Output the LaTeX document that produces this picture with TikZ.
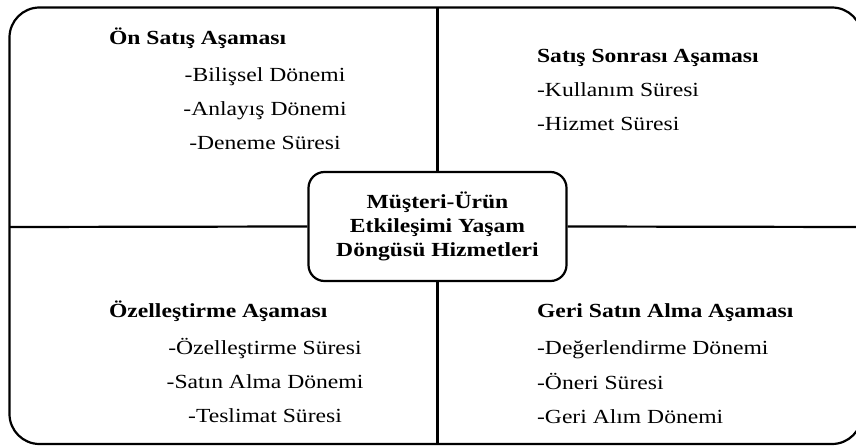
\documentclass[tikz,border=0pt]{standalone}
\usepackage{fontspec}
\setmainfont{Liberation Serif}[FakeStretch=1.18]
\begin{document}
\begin{tikzpicture}[x=1pt,y=-1pt,line width=2.2pt,
  every node/.style={font=\fontsize{20}{24}\selectfont},
  title/.style={font=\fontsize{20}{24}\selectfont\bfseries,anchor=base west,inner sep=0pt},
  item/.style={anchor=base,inner sep=0pt},
  itemL/.style={anchor=base west,inner sep=0pt},
  hub/.style={draw,rounded corners=16pt,minimum width=258pt,minimum height=109pt,
    align=center,inner sep=0pt,font=\fontsize{20}{24}\selectfont\bfseries}]
\useasboundingbox (0,0) rectangle (856,446);
\clip (0,0) rectangle (856,446);
% outer frame
\draw[rounded corners=30pt] (9.5,7.5) rectangle (862,444);
% centre
\node[hub] (hub) at (437.5,226.5) {Müşteri-Ürün\\Etkileşimi Yaşam\\Döngüsü Hizmetleri};
\coordinate (T) at (437.5,7.5);
\coordinate (B) at (437.5,444);
\coordinate (L) at (9.5,227);
\coordinate (R) at (862,227);
\draw (hub.north) -- (T);
\draw (hub.south) -- (B);
\draw (hub.west) -- (L);
\draw (hub.east) -- (R);
% top left
\node[title] (t1) at (108,45) {Ön Satış Aşaması};
\node[item] (a1) at (265,82) {-Bilişsel Dönemi};
\node[item] (a2) at (265,116) {-Anlayış Dönemi};
\node[item] (a3) at (265,150) {-Deneme Süresi};
% top right
\node[title] (t2) at (536,63) {Satış Sonrası Aşaması};
\node[itemL] (b1) at (536,97) {-Kullanım Süresi};
\node[itemL] (b2) at (536,131) {-Hizmet Süresi};
% bottom left
\node[title] (t3) at (108,317) {Özelleştirme Aşaması};
\node[item] (c1) at (265,354) {-Özelleştirme Süresi};
\node[item] (c2) at (265,388) {-Satın Alma Dönemi};
\node[item] (c3) at (265,422) {-Teslimat Süresi};
% bottom right
\node[title] (t4) at (536,317) {Geri Satın Alma Aşaması};
\node[itemL] (d1) at (536,354) {-Değerlendirme Dönemi};
\node[itemL] (d2) at (536,389) {-Öneri Süresi};
\node[itemL] (d3) at (536,423) {-Geri Alım Dönemi};
\end{tikzpicture}
\end{document}
